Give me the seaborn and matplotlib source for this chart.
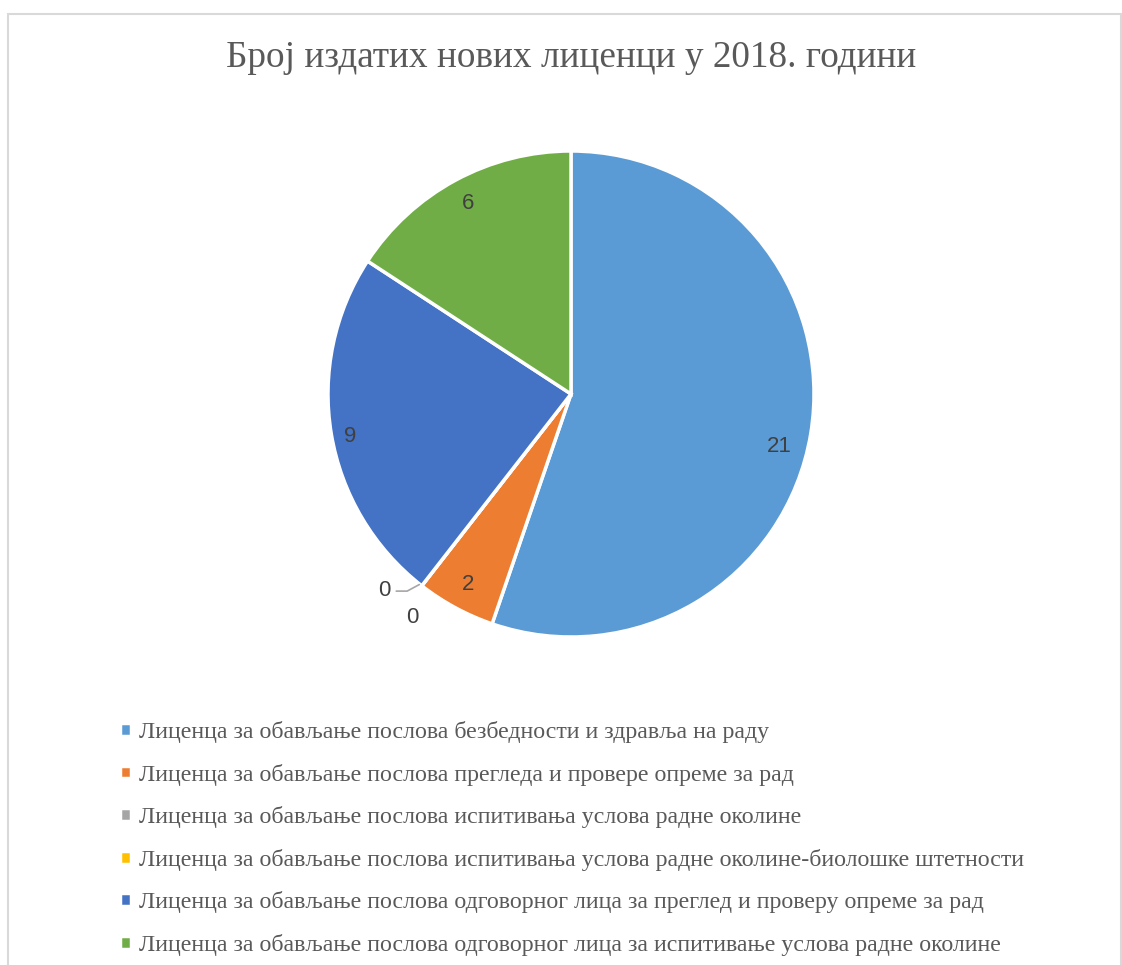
import numpy as np
import matplotlib
matplotlib.use("Agg")
import matplotlib.pyplot as plt
from matplotlib.patches import Rectangle
import seaborn as sns

TITLE = "Број издатих нових лиценци у 2018. години"
CATEGORIES = [
    "Лиценца за обављање послова безбедности и здравља на раду",
    "Лиценца за обављање послова прегледа и провере опреме за рад",
    "Лиценца за обављање послова испитивања услова радне околине",
    "Лиценца за обављање послова испитивања услова радне околине-биолошке штетности",
    "Лиценца за обављање послова одговорног лица за преглед и проверу опреме за рад",
    "Лиценца за обављање послова одговорног лица за испитивање услова радне околине",
]
VALUES = [21, 2, 0, 0, 9, 6]
COLORS = ["#5B9BD5", "#ED7D31", "#A5A5A5", "#FFC000", "#4472C4", "#70AD47"]

sns.set_theme(style="white")
plt.rcParams["font.family"] = ["Liberation Serif", "DejaVu Serif"]

W, H = 1122, 965
fig = plt.figure(figsize=(W / 100, H / 100), dpi=100)

# chart frame
fig.patches.append(Rectangle((8 / W, -0.05), (1121 - 8) / W, 1.05 - 14 / H,
                             transform=fig.transFigure, fill=False,
                             edgecolor="#D9D9D9", linewidth=1.5, clip_on=False))

cx, cy, r = 571, 394, 243
ax = fig.add_axes([(cx - r) / W, (H - cy - r) / H, 2 * r / W, 2 * r / H])
palette = sns.color_palette(COLORS)

lbl_font = dict(fontsize=16, color="#404040", family="Liberation Sans")
wedges, texts = ax.pie(
    VALUES,
    colors=palette,
    startangle=90,
    counterclock=False,
    labels=[str(v) if v else "" for v in VALUES],
    labeldistance=0.89,
    wedgeprops=dict(edgecolor="white", linewidth=2.5),
    textprops=dict(ha="center", va="center", **lbl_font),
)
ax.set_xlim(-1, 1)
ax.set_ylim(-1, 1)
ax.set_aspect("equal")

# Excel's best-fit nudges for the big slices
for i, (dx, dy) in {0: (-0.02, -0.07), 4: (-0.03, -0.03)}.items():
    x, y = texts[i].get_position()
    texts[i].set_position((x + dx, y + dy))

# zero-value slices: labels placed just outside the pie edge
zero_offsets = {2: (-0.155, -0.02, True), 3: (-0.04, -0.13, False)}
for i, (dx, dy, leader) in zero_offsets.items():
    ang = np.deg2rad(wedges[i].theta1)
    ex, ey = np.cos(ang), np.sin(ang)
    ax.text(ex + dx, ey + dy, "0", ha="center", va="center", **lbl_font)
    if leader:
        ax.plot([ex - 0.01, ex - 0.06, ex - 0.105], [ey + 0.005, ey - 0.022, ey - 0.022],
                color="#A6A6A6", linewidth=1.2, clip_on=False)

fig.text(cx / W, 1 - 58 / H, TITLE, fontsize=26.8, color="#595959",
         ha="center", va="center")

fig.legend(wedges, CATEGORIES, loc="upper left",
           bbox_to_anchor=(120 / W, 1 - 721 / H), frameon=False,
           fontsize=17.2, labelcolor="#595959", handlelength=0.45,
           handleheight=0.45, handletextpad=0.35, labelspacing=0.86,
           borderpad=0, borderaxespad=0)

fig.savefig("out.png", dpi=100)
